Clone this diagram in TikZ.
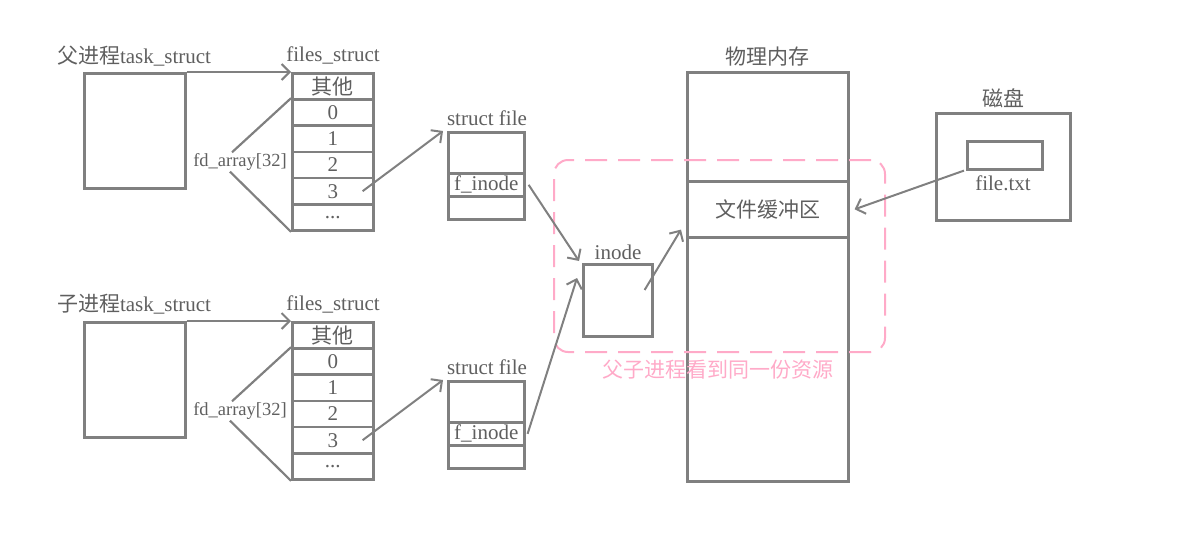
\documentclass[tikz,border=0pt]{standalone}
\usepackage{fontspec}
\setmainfont{Liberation Serif}
\newfontfamily\cjk{Noto Sans CJK SC}
\usetikzlibrary{arrows.meta}
\definecolor{boxgrey}{RGB}{128,128,128}
\definecolor{textgrey}{RGB}{95,95,95}
\definecolor{sharepink}{RGB}{255,170,200}

\begin{document}
\begin{tikzpicture}[x=1pt, y=-1pt,
    box/.style={rectangle, draw=boxgrey, line width=2.6pt, inner sep=0pt, anchor=north west,
                text=textgrey, font=\fontsize{21}{24}\selectfont},
    cell/.style={box, minimum width=81pt, minimum height=26.2pt},
    filecell/.style={box, minimum width=76pt, minimum height=23pt},
    lbl/.style={text=textgrey, font=\fontsize{21}{24}\selectfont, inner sep=1pt},
    link/.style={draw=boxgrey, line width=2pt, -{Straight Barb[length=8pt,width=16pt]}},
    fdline/.style={draw=boxgrey, line width=2.2pt},
    share/.style={rectangle, draw=sharepink, line width=2pt, dash pattern=on 22pt off 11pt,
                  rounded corners=14pt, anchor=north west, minimum width=331pt, minimum height=192pt}
]
    \useasboundingbox (0,0) rectangle (1204,538);

    % parent process
    \node[lbl] (ptasklbl) at (134,56) {{\cjk 父进程}task\_struct};
    \node[box, minimum width=101pt, minimum height=115pt] (ptask) at (83,72) {};
    \node[lbl] (pfileslbl) at (333,55) {files\_struct};
    \node[cell] (pf0) at (291,72.0) {\cjk 其他};
    \node[cell] (pf1) at (291,98.2) {0};
    \node[cell] (pf2) at (291,124.4) {1};
    \node[cell] (pf3) at (291,150.6) {2};
    \node[cell] (pf4) at (291,176.8) {3};
    \node[cell] (pf5) at (291,203.0) {...};
    \node[lbl] (pfd) at (240,162) {\fontsize{18.5}{21}\selectfont fd\_array[32]};
    \node[lbl] (pfilelbl) at (487,118) {struct file};
    \node[box, minimum width=76pt, minimum height=41pt] (pfile0) at (447,131) {};
    \node[filecell] (pfino) at (447,172) {f\_inode};
    \node[filecell] (pfile2) at (447,195) {};

    % child process
    \node[lbl] (ctasklbl) at (134,304) {{\cjk 子进程}task\_struct};
    \node[box, minimum width=101pt, minimum height=115pt] (ctask) at (83,321) {};
    \node[lbl] (cfileslbl) at (333,304) {files\_struct};
    \node[cell] (cf0) at (291,321.0) {\cjk 其他};
    \node[cell] (cf1) at (291,347.2) {0};
    \node[cell] (cf2) at (291,373.4) {1};
    \node[cell] (cf3) at (291,399.6) {2};
    \node[cell] (cf4) at (291,425.8) {3};
    \node[cell] (cf5) at (291,452.0) {...};
    \node[lbl] (cfd) at (240,411) {\fontsize{18.5}{21}\selectfont fd\_array[32]};
    \node[lbl] (cfilelbl) at (487,367) {struct file};
    \node[box, minimum width=76pt, minimum height=41pt] (cfile0) at (447,380) {};
    \node[filecell] (cfino) at (447,421) {f\_inode};
    \node[filecell] (cfile2) at (447,444) {};

    % shared resources
    \node[lbl] (inodelbl) at (618,252) {inode};
    \node[box, minimum width=69pt, minimum height=72pt] (inode) at (582,263) {};
    \node[lbl] (memlbl) at (767,57) {\cjk 物理内存};
    \node[box, minimum width=161pt, minimum height=409pt] (mem) at (686,71) {};
    \node[box, minimum width=161pt, minimum height=56pt] (buf) at (686,180) {\cjk 文件缓冲区};
    \node[lbl] (disklbl) at (1003,98) {\cjk 磁盘};
    \node[box, minimum width=134pt, minimum height=107pt] (disk) at (935,112) {};
    \node[box, minimum width=75pt, minimum height=28pt] (txt) at (966,140) {};
    \node[lbl] (txtlbl) at (1003,183) {file.txt};
    \node[share] (shared) at (553,159) {};
    \node[lbl, text=sharepink] (sharelbl) at (718,370) {\cjk 父子进程看到同一份资源};

    % links
    \draw[link] (ptask.north east) -- (pf0.north west);
    \draw[fdline] (pf1.north west) -- ([xshift=-8pt]pfd.north);
    \draw[fdline] ([xshift=-10pt]pfd.south) -- (pf5.south west);
    \draw[link] ([xshift=-12pt]pf4.east) -- ([xshift=-4pt]pfile0.north west);
    \draw[link] ([xshift=3pt]pfino.east) -- ([shift={(-3pt,2pt)}]inode.north west);
    \draw[link] (ctask.north east) -- (cf0.north west);
    \draw[fdline] (cf1.north west) -- ([xshift=-8pt]cfd.north);
    \draw[fdline] ([xshift=-10pt]cfd.south) -- (cf5.south west);
    \draw[link] ([xshift=-12pt]cf4.east) -- ([xshift=-4pt]cfile0.north west);
    \draw[link] ([xshift=2pt]cfino.east) -- ([shift={(-5pt,-15pt)}]inode.north west);
    \draw[link] ([shift={(-9pt,-27pt)}]inode.north east) -- ([shift={(-5pt,9pt)}]buf.south west);
    \draw[link] ([xshift=-2pt]txt.south west) -- ([xshift=5pt]buf.east);
\end{tikzpicture}
\end{document}
